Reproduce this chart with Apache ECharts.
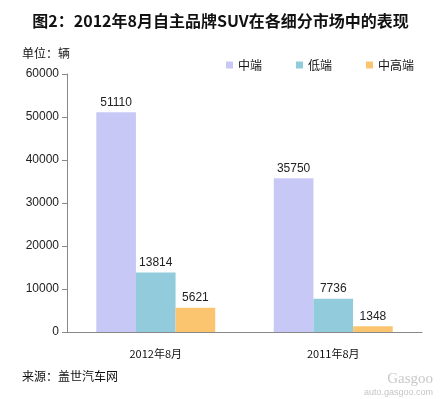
<!DOCTYPE html>
<html>
<head>
<meta charset="utf-8">
<script src="https://cdn.jsdelivr.net/npm/echarts@6/dist/echarts.min.js"></script>
<style>
  html, body { margin: 0; padding: 0; background: #fff; }
  #chart { width: 441px; height: 399px; }
</style>
</head>
<body>
<div id="chart"></div>
<script>
// 数据
var categories = ['2012年8月', '2011年8月']
var seriesNames = ['中端', '低端', '中高端']
var midValues = [51110, 35750]
var lowValues = [13814, 7736]
var highValues = [5621, 1348]
var colors = ['#c8c8f6', '#92cbdc', '#fbc570']

var font = '"Noto Sans CJK SC", "DejaVu Sans", sans-serif'
var chart = echarts.init(document.getElementById('chart'))

function bar(name, data, color) {
  return {
    name: name,
    type: 'bar',
    data: data,
    barGap: '0%',
    barCategoryGap: '33%',
    itemStyle: { color: color },
    label: {
      show: true,
      position: 'top',
      color: '#222',
      fontSize: 12,
      fontFamily: 'Arial, "Liberation Sans", sans-serif',
      distance: 4
    }
  }
}

var option = {
  backgroundColor: '#fff',
  animation: false,
  title: {
    text: '图2：2012年8月自主品牌SUV在各细分市场中的表现',
    left: 'center',
    top: 8,
    textStyle: { fontSize: 16, fontWeight: 'bold', color: '#111', fontFamily: font }
  },
  graphic: [
    {
      type: 'text', left: 22, top: 47,
      style: { text: '单位：辆', fontSize: 12, fill: '#111', fontFamily: font }
    },
    {
      type: 'text', left: 22, top: 370,
      style: { text: '来源：盖世汽车网', fontSize: 12, fill: '#111', fontFamily: font }
    },
    {
      type: 'text', right: 8, top: 372,
      style: { text: 'Gasgoo', fontSize: 15, fill: '#c9c9c9', fontFamily: 'serif' }
    },
    {
      type: 'text', right: 8, top: 388,
      style: { text: 'auto.gasgoo.com', fontSize: 9, fill: '#c6c6c6', fontFamily: 'Arial, sans-serif' }
    }
  ],
  legend: {
    data: seriesNames,
    right: 22,
    top: 54,
    itemWidth: 7,
    itemHeight: 7,
    itemGap: 34,
    icon: 'rect',
    textStyle: { fontSize: 12, color: '#111', fontFamily: font }
  },
  grid: { left: 67, right: 19, top: 74, bottom: 67, containLabel: false },
  xAxis: {
    type: 'category',
    data: categories,
    axisLine: { lineStyle: { color: '#888' } },
    axisTick: { show: false },
    axisLabel: { fontSize: 11, color: '#111', margin: 16, fontFamily: font }
  },
  yAxis: {
    type: 'value',
    min: 0,
    max: 60000,
    interval: 10000,
    splitLine: { show: false },
    axisLine: { show: true, lineStyle: { color: '#888' } },
    axisTick: { show: true, length: 5, lineStyle: { color: '#888' } },
    axisLabel: {
      fontSize: 12, color: '#222', margin: 8,
      fontFamily: 'Arial, "Liberation Sans", sans-serif',
      formatter: function (v) { return String(v) }
    }
  },
  series: [
    bar(seriesNames[0], midValues, colors[0]),
    bar(seriesNames[1], lowValues, colors[1]),
    bar(seriesNames[2], highValues, colors[2])
  ]
}

chart.setOption(option)
</script>
</body>
</html>
